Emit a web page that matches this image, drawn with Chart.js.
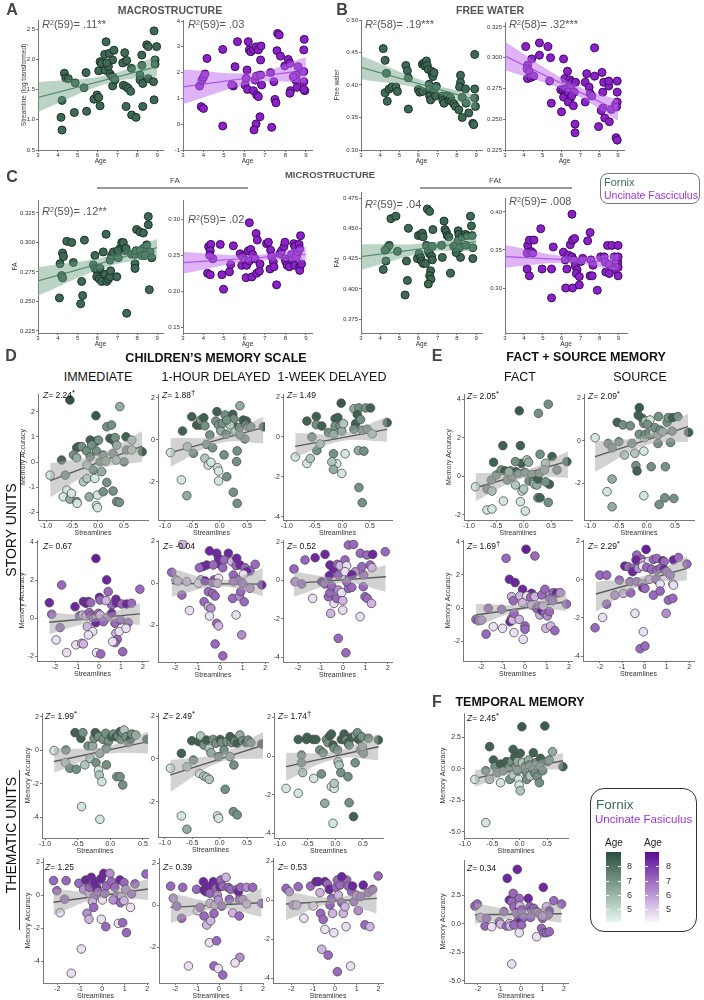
<!DOCTYPE html>
<html><head><meta charset="utf-8">
<script src="https://cdn.jsdelivr.net/npm/chart.js@4.4.1/dist/chart.umd.min.js"></script>
<style>
html,body{margin:0;padding:0;background:#fff;}
#root{position:relative;width:704px;height:1000px;overflow:hidden;font-family:'Liberation Sans',Arial,Helvetica,sans-serif;}
.t{position:absolute;white-space:nowrap;line-height:1;}
.c{transform:translate(-50%,-50%);}
.l{transform:translateY(-50%);}
.r{transform:translate(-50%,-50%) rotate(-90deg);}
sup{font-size:65%;vertical-align:0;position:relative;top:-0.45em;}
</style></head><body><div id="root"></div>
<script>
// ---------------- DATA ----------------
const ageTicks = [3,4,5,6,7,8,9];
const streamTicksA = [-1,-0.5,0,0.5];
const streamTicksB = [-2,-1,0,1,2];

const a1Pts = [[4.33,1.77],[4.4,1.69],[4.53,1.68],[4.21,1.32],[4.16,1.04],[4.21,0.83],[4.88,1.61],[4.83,1.12],[5.32,1.53],[5.42,1.78],[5.45,1.14],[5.82,1.34],[5.97,1.41],[6.06,1.37],[6.13,1.23],[6.43,2.29],[6.13,1.96],[6.19,1.93],[6.06,1.81],[6.38,1.82],[6.55,1.88],[6.63,1.76],[6.71,1.72],[6.8,1.70],[6.76,1.56],[6.76,1.99],[6.36,2.08],[6.6,2.10],[6.83,2.15],[6.46,1.94],[6.88,1.66],[7.37,2.11],[7.39,1.96],[7.27,1.94],[7.47,1.98],[7.3,1.57],[7.44,1.55],[7.55,1.52],[7.67,1.47],[7.44,1.22],[7.72,1.08],[7.94,1.04],[7.71,1.85],[8.23,2.07],[8.14,1.74],[8.14,1.66],[8.28,1.60],[8.28,1.22],[8.48,2.24],[8.56,2.21],[8.56,1.68],[8.82,1.63],[8.9,1.99],[8.9,1.92],[8.98,2.21],[8.85,2.47],[8.85,1.33],[8.24,1.90]];
const a1Line = [[3,1.37],[9,1.88]];
const a1Band = [[3,1.13,1.62],[6.5,1.6,1.74],[9,1.72,2.06]];

const a2Pts = [[3.81,1.48],[3.92,1.71],[4.0,1.82],[4.07,1.95],[4.17,2.55],[3.89,0.68],[4.0,0.61],[4.94,2.90],[4.94,-0.07],[5.46,1.48],[5.54,2.23],[5.66,3.2],[5.38,1.52],[6.19,3.2],[6.24,2.88],[6.31,2.81],[6.44,2.90],[6.57,3.0],[6.68,2.88],[6.81,3.03],[6.08,1.78],[6.03,1.52],[6.15,1.35],[6.13,2.1],[6.52,1.71],[6.6,1.87],[6.79,1.91],[6.44,1.3],[6.6,1.13],[6.68,1.07],[6.79,2.49],[6.76,0.29],[6.57,0.01],[6.47,-0.22],[7.28,2.0],[6.84,1.52],[7.49,0.96],[7.54,0.83],[7.44,1.65],[7.33,-0.12],[7.62,3.52],[7.7,3.46],[7.59,2.85],[7.76,2.64],[7.97,2.26],[8.14,2.51],[8.22,2.36],[8.25,1.3],[8.22,1.2],[8.54,1.91],[8.51,1.71],[8.57,1.43],[8.9,2.04],[8.9,1.65],[8.95,1.3],[8.9,1.35],[8.92,3.29],[8.9,2.88],[8.62,2.23],[8.38,1.84]];
const a2Line = [[3,1.45],[9,2.1]];
const a2Band = [[3,0.78,2.12],[6.5,1.6,2.0],[9,1.62,2.6]];

const b1Pts = [[4.16,0.456],[4.26,0.438],[4.33,0.418],[4.26,0.388],[4.37,0.375],[4.47,0.394],[4.61,0.397],[4.82,0.397],[4.9,0.39],[5.34,0.43],[5.42,0.422],[5.47,0.411],[5.47,0.363],[5.99,0.393],[6.06,0.389],[6.2,0.39],[6.2,0.432],[6.29,0.434],[6.34,0.429],[6.41,0.437],[6.46,0.43],[6.51,0.424],[6.55,0.401],[6.58,0.393],[6.58,0.383],[6.63,0.377],[6.68,0.421],[6.72,0.416],[6.75,0.413],[6.81,0.419],[6.81,0.39],[6.89,0.383],[6.93,0.398],[7.24,0.383],[7.27,0.376],[7.33,0.372],[7.5,0.383],[7.58,0.377],[7.67,0.38],[7.72,0.375],[7.84,0.371],[7.93,0.367],[8.19,0.415],[8.19,0.404],[8.14,0.397],[8.28,0.381],[8.28,0.35],[8.45,0.394],[8.48,0.372],[8.62,0.357],[8.83,0.341],[8.93,0.447],[8.93,0.394],[8.93,0.38],[8.97,0.367],[8.88,0.339],[8.1,0.362]];
const b1Line = [[3,0.427],[9,0.377]];
const b1Band = [[3,0.409,0.445],[6.5,0.392,0.404],[9,0.362,0.385]];

const b2Pts = [[4.1,0.309],[4.42,0.299],[4.2,0.294],[4.17,0.291],[4.29,0.289],[4.2,0.283],[4.38,0.284],[4.53,0.285],[4.83,0.312],[4.83,0.302],[5.28,0.309],[5.42,0.300],[5.37,0.281],[5.46,0.263],[6.0,0.256],[6.11,0.299],[6.11,0.268],[6.18,0.283],[6.32,0.289],[5.96,0.274],[6.09,0.274],[6.21,0.274],[6.36,0.276],[6.45,0.282],[6.54,0.28],[6.5,0.276],[6.36,0.272],[6.45,0.266],[6.36,0.264],[6.63,0.261],[6.68,0.272],[6.54,0.269],[6.75,0.28],[6.72,0.246],[6.72,0.239],[7.26,0.28],[7.34,0.287],[7.47,0.276],[7.52,0.271],[7.61,0.269],[7.76,0.308],[7.26,0.264],[7.76,0.285],[7.97,0.244],[8.15,0.288],[8.24,0.28],[8.19,0.272],[8.19,0.259],[8.11,0.257],[8.3,0.251],[8.51,0.277],[8.54,0.248],[8.65,0.258],[8.87,0.262],[8.96,0.281],[8.96,0.272],[8.96,0.264],[8.92,0.26],[8.9,0.235],[8.96,0.233],[8.51,0.281]];
const b2Line = [[3,0.3014],[9,0.257]];
const b2Band = [[3,0.29,0.313],[6.5,0.2715,0.2795],[9,0.2488,0.2656]];

const c1Pts = [[4.45,0.301],[4.7,0.300],[4.24,0.291],[4.28,0.288],[4.11,0.282],[4.19,0.272],[4.24,0.270],[4.78,0.283],[4.08,0.253],[5.15,0.248],[5.25,0.255],[5.2,0.267],[5.34,0.302],[5.87,0.289],[5.79,0.281],[5.87,0.278],[5.96,0.277],[6.01,0.276],[6.13,0.278],[5.96,0.271],[6.09,0.269],[6.21,0.267],[6.38,0.273],[6.43,0.307],[6.29,0.292],[6.46,0.267],[6.55,0.269],[6.63,0.271],[6.66,0.276],[6.63,0.285],[6.71,0.289],[6.8,0.292],[7.05,0.287],[7.05,0.293],[7.13,0.295],[7.22,0.3],[7.3,0.3],[7.39,0.293],[7.44,0.295],[6.97,0.271],[7.02,0.293],[7.47,0.24],[7.72,0.29],[7.89,0.29],[7.94,0.293],[7.97,0.311],[8.14,0.309],[8.31,0.308],[8.31,0.295],[7.89,0.282],[7.89,0.278],[8.14,0.293],[8.23,0.289],[8.56,0.322],[8.56,0.315],[8.61,0.26],[8.48,0.298],[8.65,0.292],[8.73,0.287],[8.39,0.289]];
const c1Line = [[3,0.2674],[9,0.2956]];
const c1Band = [[3,0.255,0.279],[6.5,0.2795,0.2883],[9,0.287,0.303]];

const c2Pts = [[4.25,0.262],[4.36,0.265],[4.33,0.256],[4.46,0.245],[4.3,0.25],[4.2,0.225],[4.33,0.223],[4.82,0.265],[4.9,0.223],[4.98,0.203],[5.27,0.227],[5.33,0.237],[5.46,0.263],[5.79,0.252],[5.92,0.248],[5.87,0.236],[6.03,0.243],[6.11,0.236],[6.08,0.219],[6.24,0.295],[6.19,0.256],[6.31,0.258],[6.24,0.242],[6.36,0.22],[6.4,0.251],[6.57,0.28],[6.63,0.271],[6.52,0.245],[6.6,0.225],[6.73,0.228],[6.76,0.238],[7.08,0.266],[7.17,0.268],[7.28,0.257],[7.33,0.248],[7.41,0.241],[7.25,0.231],[7.44,0.234],[7.57,0.209],[7.73,0.252],[7.81,0.256],[7.93,0.262],[7.98,0.268],[7.98,0.245],[8.02,0.241],[8.09,0.236],[8.19,0.234],[8.3,0.251],[8.35,0.243],[8.41,0.266],[8.46,0.236],[8.46,0.262],[8.54,0.248],[8.62,0.255],[8.67,0.265],[8.7,0.234],[8.7,0.229],[8.74,0.277],[8.79,0.238],[8.7,0.259]];
const c2Line = [[3,0.2398],[9,0.251]];
const c2Band = [[3,0.2245,0.2546],[6.5,0.2423,0.2503],[9,0.2417,0.2616]];

const c3Pts = [[4.16,0.416],[4.3,0.423],[4.38,0.434],[4.47,0.436],[4.26,0.432],[4.56,0.458],[4.82,0.46],[4.9,0.431],[5.37,0.423],[5.47,0.45],[5.42,0.407],[5.3,0.395],[5.94,0.425],[5.99,0.444],[6.11,0.445],[6.2,0.446],[6.24,0.443],[6.03,0.429],[6.11,0.426],[6.16,0.423],[6.24,0.421],[6.37,0.421],[6.46,0.466],[6.58,0.464],[6.41,0.436],[6.51,0.431],[6.58,0.429],[6.72,0.435],[6.68,0.427],[6.72,0.424],[6.63,0.415],[6.58,0.411],[6.65,0.408],[6.51,0.404],[6.75,0.449],[7.24,0.426],[7.2,0.436],[7.33,0.456],[7.38,0.449],[7.45,0.447],[7.5,0.444],[7.58,0.443],[7.67,0.413],[7.84,0.435],[7.93,0.436],[8.07,0.448],[8.1,0.445],[8.07,0.44],[8.14,0.434],[8.19,0.426],[8.28,0.443],[8.45,0.445],[8.48,0.436],[8.54,0.444],[8.71,0.46],[8.76,0.452],[8.8,0.444],[8.83,0.434],[8.83,0.425],[7.96,0.43]];
const c3Line = [[3,0.4267],[9,0.439]];
const c3Band = [[3,0.4157,0.4368],[6.5,0.43,0.438],[9,0.4313,0.4467]];

const c4Pts = [[4.17,0.346],[4.2,0.356],[4.29,0.363],[4.53,0.363],[4.38,0.348],[4.47,0.346],[4.17,0.325],[4.29,0.316],[4.89,0.378],[4.96,0.325],[5.46,0.325],[5.55,0.354],[5.46,0.287],[6.09,0.347],[6.18,0.337],[6.27,0.325],[6.21,0.3],[6.54,0.397],[6.45,0.357],[6.57,0.363],[6.68,0.365],[6.36,0.343],[6.54,0.341],[6.63,0.337],[6.72,0.329],[6.81,0.324],[6.77,0.319],[6.57,0.3],[6.93,0.315],[6.93,0.304],[7.02,0.335],[7.11,0.339],[7.37,0.362],[7.5,0.373],[7.55,0.337],[7.5,0.316],[7.61,0.316],[7.65,0.33],[7.88,0.297],[8.06,0.341],[8.24,0.341],[8.3,0.334],[8.42,0.356],[8.33,0.321],[8.51,0.331],[8.65,0.356],[8.78,0.341],[8.87,0.329],[8.96,0.334],[8.98,0.356],[8.98,0.341],[8.98,0.327],[8.98,0.316],[8.69,0.324],[8.51,0.319]];
const c4Line = [[3,0.3412],[9,0.3338]];
const c4Band = [[3,0.3268,0.3566],[6.5,0.333,0.341],[9,0.3224,0.3443]];

// D/E/F: [streamlines, memory accuracy, age]
const dImmFx = [[-0.92,-0.52,4.5],[-0.54,2.46,8.8],[-0.7,0.08,8.2],[-0.41,0.57,8.4],[-0.37,0.61,8.4],[-0.31,0.61,7],[-0.47,0.28,7],[-0.41,0.17,6.2],[-0.22,0.44,7],[-0.15,0.87,8.4],[-0.09,0.81,8.4],[-0.03,0.83,8.4],[0.01,0.87,7],[-0.12,0.67,7],[-0.03,0.44,7],[-0.04,1.84,8.6],[-0.15,0.21,7],[-0.21,-0.12,5.4],[-0.09,-0.32,7],[0.07,-0.38,6.2],[0.1,0.28,7],[0.17,1.4,7],[0.26,1.47,7],[0.23,0.94,8.4],[0.29,0.87,8.4],[0.33,0.97,7],[0.36,0.67,6.2],[0.29,0.34,7],[0.42,2.2,6.2],[0.54,1.0,8.4],[0.65,0.87,5.4],[0.55,0.48,7],[0.5,0.01,7],[0.85,0.41,8.4],[-0.63,-0.52,7],[-0.6,-1.11,4.5],[-0.67,-1.38,4.5],[-0.54,-1.47,6.2],[-0.51,-1.24,4.5],[-0.41,-1.57,7],[-0.4,-1.64,4.5],[-0.28,-0.78,5.4],[-0.17,-1.38,6.2],[-0.21,-0.65,5.4],[-0.06,-0.65,4.5],[-0.01,-1.31,4.5],[-0.03,-1.73,4.5],[-0.01,-1.81,4.5],[0.1,-1.18,7],[0.17,-0.81,7],[0.29,-1.15,7],[0.36,-1.57,7],[0.41,-1.6,7],[0.35,0.08,5.4],[0.04,0.01,7],[0.15,0.04,6.2],[0.65,0.48,5.4]];
const dImmFxLine = [[-0.92,-0.74],[0.85,0.63]];
const dImmFxBand = [[-0.92,-1.41,-0.05],[0,-0.3,0.3],[0.85,0.01,1.23]];

const dHrFx = [[-0.9,-0.6,4.5],[-0.7,-1.9,4.5],[-0.6,-2.65,6.2],[-0.68,0.43,8.4],[-0.59,-0.32,5.4],[-0.51,1.11,8.4],[-0.48,-0.63,7],[-0.42,0.71,8.4],[-0.36,0.71,8.4],[-0.35,0.95,7],[-0.29,1.06,8.4],[-0.27,0.68,7],[-0.24,-0.21,7],[-0.18,0.24,7],[-0.13,-0.37,7],[-0.27,-0.87,5.4],[-0.21,-1.19,4.5],[-0.16,-1.06,4.5],[-0.04,-1.32,4.5],[-0.02,-1.48,4.5],[-0.02,-1.95,4.5],[-0.05,1.35,8.4],[-0.07,0.9,7],[-0.02,0.71,7],[0.02,0.43,6.2],[0.05,0.79,7],[0.1,1.19,7],[0.12,0.27,7],[0.08,-0.71,7],[0.13,-1.75,7],[0.24,1.22,8.4],[0.25,0.71,8.4],[0.26,1.0,7],[0.28,0.43,5.4],[0.36,0.59,7],[0.37,1.63,6.2],[0.32,-0.52,7],[0.31,-1.03,7],[0.25,-2.49,7],[0.32,-3.02,7],[0.43,0.95,8.4],[0.49,0.9,8.4],[0.48,0.71,7],[0.52,0.63,7],[0.57,0.63,7],[0.46,0.05,7],[0.8,0.63,8.4],[0.37,0.24,7],[0.19,0.71,5.4],[0.13,0.95,7]];
const dHrFxLine = [[-0.9,-0.6],[0.8,0.59]];
const dHrFxBand = [[-0.9,-1.27,0.08],[0,-0.15,0.2],[0.8,-0.16,1.11]];

const dWkFx = [[-0.85,-1.0,4.5],[-0.64,-1.33,4.5],[-0.58,-1.08,5.4],[-0.46,-0.68,7],[-0.64,0.8,8.4],[-0.47,1.03,8.4],[-0.47,0.62,7],[-0.37,0.55,8.4],[-0.55,0.0,7],[-0.4,-0.35,5.4],[-0.25,0.22,7],[-0.16,0.14,6.2],[-0.13,0.92,8.4],[-0.08,0.98,8.4],[-0.02,1.7,8.6],[-0.13,0.55,7],[-0.04,0.55,7],[-0.01,0.3,6.2],[0.02,0.67,5.4],[-0.16,-0.84,7],[-0.1,-1.34,4.5],[-0.19,-1.25,5.4],[-0.16,-1.63,6.2],[-0.01,-1.83,4.5],[0.05,-0.84,4.5],[0.21,1.42,6.2],[0.3,1.46,7],[0.42,1.46,7],[0.51,1.46,8.4],[0.27,1.13,8.4],[0.24,0.67,8.4],[0.33,0.88,7],[0.21,0.39,7],[0.36,0.34,7],[0.45,0.39,7],[0.54,0.16,5.4],[0.81,0.72,8.4],[0.29,-0.68,6.2],[0.39,-0.71,7],[0.3,-2.54,7],[0.36,-3.3,7]];
const dWkFxLine = [[-0.85,-0.47],[0.81,0.38]];
const dWkFxBand = [[-0.85,-1.0,0.2],[0,-0.2,0.2],[0.81,-0.24,1.02]];

const eFactFx = [[-0.88,-0.54,4.5],[-0.67,-0.66,7],[-0.67,-1.74,4.5],[-0.58,-1.69,4.5],[-0.58,-0.76,5.4],[-0.59,-0.19,7],[-0.5,0.07,7],[-0.55,0.73,8.4],[-0.37,-1.28,4.5],[-0.38,1.59,8.4],[-0.41,0.33,7],[-0.34,0.28,8.4],[-0.3,-0.19,7],[-0.24,0.28,7],[-0.21,-0.02,7],[-0.15,-0.45,5.4],[-0.14,0.24,8.4],[-0.09,0.16,7],[-0.08,3.39,8.6],[-0.06,1.59,8.4],[-0.04,0.67,8.4],[-0.06,-1.31,4.5],[-0.03,-0.76,4.5],[0.0,-0.66,5.4],[0.03,-1.8,4.5],[0.02,0.21,7],[0.06,0.85,5.4],[0.09,0.73,6.2],[0.1,-0.24,7],[0.15,0.1,7],[0.18,-0.28,7],[0.2,-0.41,5.4],[0.24,-0.45,6.2],[0.26,-0.14,8.4],[0.29,0.16,7],[0.26,-1.11,7],[0.3,-1.11,8.4],[0.27,3.26,7],[0.3,1.14,7],[0.4,0.67,5.4],[0.38,0.33,6.2],[0.45,-1.35,7],[0.47,-0.41,8.4],[0.52,1.02,8.4],[0.45,3.73,7],[0.61,0.33,7],[0.79,0.76,8.4],[0.4,-0.28,7],[-0.27,0.24,6.2],[-0.15,0.76,7]];
const eFactFxLine = [[-0.88,-0.59],[0.81,0.79]];
const eFactFxBand = [[-0.88,-1.28,0.16],[0,-0.1,0.3],[0.81,-0.07,1.28]];

const eSrcFx = [[-0.91,0.14,4.5],[-0.7,-2.39,4.5],[-0.61,-1.8,6.2],[-0.61,-3.1,6.2],[-0.68,-0.13,7],[-0.61,-0.33,7],[-0.52,0.86,8.4],[-0.49,-0.05,7],[-0.42,0.74,7],[-0.39,-0.67,5.4],[-0.29,0.7,7],[-0.26,-0.13,7],[-0.21,-0.59,5.4],[-0.19,-1.17,7],[-0.17,-1.42,8.4],[-0.15,1.2,8.4],[-0.13,1.55,8.6],[-0.13,0.3,7],[-0.08,1.05,8.4],[-0.05,0.81,7],[-0.02,0.92,5.4],[-0.04,0.14,5.4],[-0.05,-0.49,4.5],[-0.02,0.3,7],[0.06,0.97,4.5],[0.01,0.77,7],[0.08,-1.22,7],[-0.05,-2.58,4.5],[0.04,0.34,7],[0.12,0.39,5.4],[0.15,0.61,7],[0.21,1.13,7],[0.2,0.27,6.2],[0.2,-0.13,7],[0.24,0.5,7],[0.28,0.42,6.2],[0.33,-1.22,7],[0.36,0.86,7],[0.38,1.08,7],[0.46,1.08,8.4],[0.55,1.13,7],[0.45,0.45,7],[0.42,-0.08,7],[0.32,-2.68,7],[0.22,-2.99,7],[0.74,0.39,8.4],[0.48,-2.71,7]];
const eSrcFxLine = [[-0.91,-0.75],[0.73,0.66]];
const eSrcFxBand = [[-0.91,-1.46,-0.05],[0,-0.2,0.25],[0.73,-0.05,1.28]];

const dImmUf = [[-1.7,1.76,7],[0.35,2.03,8.4],[-0.14,3.16,8.6],[-2.26,0.83,8.4],[-1.09,0.62,8.4],[-0.71,0.89,8.4],[-0.59,0.8,8.4],[-0.48,0.89,8.4],[-0.38,0.83,7],[0.02,1.11,8.4],[0.05,0.97,7],[0.42,1.41,7],[0.58,0.71,7],[0.77,1.01,8.4],[0.8,0.83,8.4],[0.32,0.94,5.4],[1.03,0.76,7],[1.26,0.76,8.4],[1.48,0.8,7],[1.86,1.54,7],[-2.15,0.22,7],[-1.77,-0.48,7],[-1.95,-1.13,4.5],[-1.47,-1.8,4.5],[-1.05,-1.39,4.5],[-0.79,-1.31,5.4],[-0.71,-1.34,5.4],[-0.89,0.13,7],[-0.74,0.18,5.4],[-0.59,0.13,5.4],[-0.44,0.31,7],[-0.38,0.13,7],[-0.26,0.01,7],[-0.53,-0.43,5.4],[-0.29,-0.69,4.5],[-0.48,-0.87,4.5],[-0.11,0.1,5.4],[-0.03,0.27,7],[-0.14,-0.22,8.4],[0.05,0.18,5.4],[-0.11,-1.8,4.5],[0.08,-1.87,7],[0.38,0.06,6.2],[0.58,0.27,8.4],[0.73,-0.25,7],[0.77,-0.78,5.4],[0.83,-1.1,7],[0.73,-1.27,7],[0.92,-0.69,4.5],[0.98,-0.08,7],[1.33,-0.22,7],[1.23,-0.52,4.5],[1.08,-1.75,7],[0.62,-1.22,4.5],[0.2,-0.17,7]];
const dImmUfLine = [[-2.26,-0.2],[1.86,0.24]];
const dImmUfBand = [[-2.26,-0.83,0.31],[0,-0.15,0.2],[1.86,-0.34,0.8]];

const dHrUf = [[-1.66,1.87,5.4],[-0.47,1.55,8.4],[-0.15,1.44,8.4],[0.37,1.44,8.4],[-0.07,1.2,8.4],[0,0.91,8.4],[-0.77,0.8,8.4],[-0.92,0.75,7],[-0.59,0.88,8.4],[-0.3,0.88,7],[0.12,0.75,7],[0.18,1.12,7],[0.52,1.04,5.4],[0.71,0.85,7],[0.89,0.88,8.4],[1.11,0.75,7],[1.33,0.6,7],[1.56,0.91,7],[1.19,0.56,8.4],[0.74,1.2,8.4],[1.04,0.44,4.5],[-2.15,0.53,7],[-1.96,0.17,5.4],[-1.48,0.09,5.4],[-0.86,0.17,5.4],[-0.27,0.17,7],[-0.07,0.25,4.5],[0.59,0.4,7],[0.77,0.17,7],[-1.88,0.12,5.4],[-0.96,0.01,4.5],[-0.67,0.12,8.4],[-0.33,0.04,7],[-0.12,0.01,5.4],[-1.7,-0.55,7],[-1.36,-1.29,4.5],[-0.71,-0.87,7],[-0.52,-1.1,5.4],[-0.41,-1.18,6.2],[-0.47,-1.55,4.5],[-0.52,-0.39,7],[-0.33,-0.47,7],[-0.22,-0.6,7],[-0.15,-1.9,7],[-0.07,-2.02,5.4],[-0.22,-2.88,7],[0.12,-3.45,7],[0.56,-0.71,7],[0.71,-1.5,4.5],[0.86,-0.6,6.2],[0.92,-0.39,7],[1.07,-0.87,7],[0.96,-2.45,6.2],[1.33,-0.23,6.2],[1.85,-0.07,8.4],[1.0,0.01,7],[0.59,0.09,7]];
const dHrUfLine = [[-2.15,0.0],[1.9,-0.03]];
const dHrUfBand = [[-2.15,-0.63,0.72],[0,-0.15,0.15],[1.9,-0.6,0.72]];

const dWkUf = [[-2.18,0.6,7],[-1.69,1.07,7],[-1.24,1.19,8.4],[-0.8,1.36,8.4],[-0.58,0.81,8.4],[-0.43,0.6,8.4],[-0.25,0.84,7],[-0.13,0.77,5.4],[0.09,1.07,7],[0.16,0.77,4.5],[0.24,1.85,7],[0.28,0.29,7],[-0.61,0.25,8.4],[-0.21,0.29,7],[0.09,0.46,4.5],[0.47,1.88,7],[0.77,1.42,7],[1.07,1.33,7],[1.32,1.36,8.4],[1.88,1.5,7],[0.84,0.72,7],[1.21,0.81,7],[0.55,0.46,6.2],[0.4,0.29,8.4],[0.92,0.29,7],[1.29,0.67,5.4],[-2.13,-0.06,6.2],[-1.84,-0.18,7],[-1.35,-0.93,4.5],[-0.95,-0.06,8.4],[-0.8,-0.18,7],[-0.65,-0.84,7],[-0.58,-0.63,7],[-0.5,-0.29,7],[-0.4,-1.19,4.5],[-0.28,-0.93,7],[-0.21,-0.49,6.2],[-0.55,-1.71,5.4],[-0.06,-0.63,4.5],[-0.01,-1.05,5.4],[-0.01,-1.54,4.5],[-0.21,-3.01,7],[0.13,-3.76,7],[0.24,-0.41,7],[0.39,-0.36,7],[0.9,-0.32,7],[0.98,-0.84,7],[1.08,-0.93,7],[1.27,-1.19,5.4],[0.76,-1.88,4.5],[0.16,-0.06,7]];
const dWkUfLine = [[-2.18,-0.15],[1.9,0.2]];
const dWkUfBand = [[-2.18,-0.84,0.46],[0,-0.12,0.18],[1.9,-0.58,0.81]];

const eFactUf = [[0.05,3.56,8.6],[-0.86,3.01,7],[0.45,3.15,7],[-0.71,1.74,8.4],[-0.45,1.54,8.4],[-0.11,1.13,8.4],[0.3,0.89,8.4],[0.2,0.69,7],[-0.61,0.69,5.4],[-0.53,0.44,7],[-0.23,0.73,5.4],[0.08,0.73,4.5],[0.26,0.65,7],[0.45,0.69,5.4],[0.76,0.79,7],[0.91,1.13,7],[1.29,0.93,7],[1.44,0.9,8.4],[1.6,0.93,6.2],[1.11,0.59,7],[1.89,0.24,7],[-1.67,-0.02,7],[-2.23,-0.69,7],[-2.12,-0.77,7],[-1.97,-0.73,6.2],[-1.77,-1.58,7],[-1.44,-1.13,4.5],[-1.06,-0.08,7],[-1.02,-1.23,4.5],[-0.61,-0.63,7],[-0.68,-0.83,8.4],[-0.56,-0.73,5.4],[-0.5,-0.32,7],[-0.5,-1.49,4.5],[-0.26,-0.69,5.4],[-0.11,0.32,5.4],[-0.08,-1.9,4.5],[0,-1.09,7],[0,-1.29,7],[0.3,0.18,5.4],[0.53,-0.02,7],[0.61,0.12,7],[0.68,-0.42,5.4],[0.76,-0.16,8.4],[0.91,-0.32,7],[0.83,0.12,5.4],[1.02,-0.48,6.2],[1.11,-0.22,7],[0.95,-1.23,5.4],[1.17,-1.09,5.4],[1.36,-1.37,7],[1.26,0.44,7]];
const eFactUfLine = [[-2.23,-0.42],[1.89,0.38]];
const eFactUfBand = [[-2.23,-1.09,0.24],[0,-0.1,0.25],[1.89,-0.16,1.09]];

const eSrcUf = [[0.07,1.57,8.6],[-0.35,1.28,7],[-0.13,1.05,7],[-0.38,1.02,8.4],[-0.05,0.88,5.4],[0.17,0.93,4.5],[0.4,1.05,7],[0.55,1.1,7],[0.82,0.98,8.4],[0.88,0.93,7],[1.3,1.02,8.4],[1.52,1.15,7],[1.9,0.81,7],[-0.88,0.7,8.4],[-0.73,0.67,7],[-0.5,0.58,7],[-0.53,0.41,8.4],[-0.28,0.58,6.2],[-0.08,0.7,4.5],[0.1,0.63,7],[0.32,0.53,7],[0.55,0.49,7],[0.7,0.58,7],[0.88,0.53,8.4],[1.0,0.41,7],[1.15,0.23,7],[-2.0,0.23,7],[-1.7,0.23,7],[-1.13,-0.03,7],[-0.65,-0.11,7],[-0.35,-0.11,7],[-0.08,-0.23,5.4],[0.22,0.01,5.4],[0.52,0.01,7],[0.7,-0.23,4.5],[1.27,-0.23,4.5],[-0.08,-0.41,8.4],[0.02,-0.46,7],[-1.33,-0.81,6.2],[-0.95,-0.72,5.4],[-0.62,-0.69,7],[0.4,-0.81,7],[-1.7,-1.28,7],[1.07,-1.07,7],[0.7,-0.6,7],[-2.22,-2.51,7],[-1.88,-1.97,4.5],[-0.43,-1.76,4.5],[-0.05,-2.72,4.5],[-0.2,-3.6,7],[0.02,-3.46,7],[0.97,-1.76,6.2],[1.27,-0.98,7],[1.3,-0.29,4.5]];
const eSrcUfLine = [[-2.18,-0.75],[1.9,0.58]];
const eSrcUfBand = [[-2.18,-1.68,-0.11],[0,-0.25,0.2],[1.9,-0.03,1.22]];

const tImmFx = [[-0.86,-0.02,4.5],[-0.69,-0.73,5.4],[-0.68,0.02,7],[-0.62,-1.07,7],[-0.54,1.05,8.4],[-0.52,-1.13,7],[-0.45,0.71,8.4],[-0.42,1.05,7],[-0.39,-0.87,5.4],[-0.34,0.26,7],[-0.31,-0.48,5.4],[-0.27,0.26,6.2],[-0.25,0.71,7],[-0.23,1.05,8.4],[-0.21,0.97,8.4],[-0.18,0.81,7],[-0.22,-0.73,7],[-0.18,-1.17,4.5],[-0.17,-1.47,5.4],[-0.13,-1.87,4.5],[-0.16,-0.18,6.2],[-0.11,0.65,7],[-0.07,1.01,7],[-0.06,-0.87,7],[-0.03,0.52,7],[0.02,0.81,8.4],[0.05,0.97,7],[0.09,0.81,8.4],[0.12,0.85,7],[0.16,0.65,7],[0.15,1.11,8.4],[0.19,1.05,7],[0.21,1.21,5.4],[0.24,0.81,7],[0.28,0.46,7],[0.31,0.65,8.4],[0.33,0.97,7],[0.1,-1.57,7],[0.15,-1.57,7],[0.19,-2.06,7],[0.39,0.91,6.2],[0.56,0.65,8.4],[-0.44,-3.35,4.5],[-0.16,-4.11,4.5],[-0.06,0.12,7]];
const tImmFxLine = [[-0.86,-0.67],[0.58,0.52]];
const tImmFxBand = [[-0.86,-1.33,0.12],[-0.1,-0.25,0.2],[0.58,-0.18,1.11]];

const tHrFx = [[-0.9,-0.43,4.5],[-0.7,0.26,8.4],[-0.6,-0.36,5.4],[-0.48,-0.05,7],[-0.51,0.85,8.4],[-0.39,0.81,8.4],[-0.37,-0.67,4.5],[-0.29,-0.79,5.4],[-0.24,-0.85,5.4],[-0.19,-0.95,5.4],[-0.35,1.07,5.4],[-0.29,0.65,7],[-0.24,0.88,8.4],[-0.19,0.5,5.4],[-0.16,0.29,6.2],[-0.12,0.91,7],[-0.07,0.73,7],[-0.02,0.11,7],[0.01,0.91,8.4],[0.04,0.76,7],[0.08,0.42,7],[0.13,0.81,7],[0.19,1.04,8.4],[0.22,0.76,7],[0.25,0.91,8.4],[0.28,0.81,7],[0.26,-0.28,7],[0.19,0.11,6.2],[0.1,-1.41,7],[0.32,0.73,8.4],[0.37,1.12,6.2],[0.42,0.85,7],[0.48,0.76,8.4],[0.52,0.88,7],[0.57,0.76,7],[0.77,0.7,8.4],[-0.7,-2.65,4.5],[-0.6,-3.27,6.2],[-0.04,-2.65,4.5],[-0.02,-2.76,4.5],[0.25,-2.45,7],[0.32,-2.6,7]];
const tHrFxLine = [[-0.9,-0.74],[0.8,0.65]];
const tHrFxBand = [[-0.9,-1.52,-0.05],[0,-0.15,0.25],[0.8,0.03,1.27]];

const tWkFx = [[-0.89,-1.68,4.5],[-0.67,-1.93,4.5],[-0.67,0.86,8.4],[-0.61,0.05,7],[-0.61,-0.35,7],[-0.59,-0.86,5.4],[-0.52,0.86,8.4],[-0.51,0.97,8.4],[-0.4,0.86,8.4],[-0.35,0.86,8.4],[-0.39,-1.16,4.5],[-0.25,-0.93,7],[-0.19,-2.45,6.2],[-0.16,0.86,7],[-0.13,0.69,7],[-0.1,1.04,8.4],[-0.07,1.14,8.4],[-0.28,0.31,7],[-0.22,0.17,7],[-0.04,0.57,8.4],[-0.02,0.4,7],[0.04,0.31,7],[0.05,-0.29,5.4],[0.07,-0.47,5.4],[0.1,-0.86,7],[-0.07,-1.59,4.5],[-0.02,-1.68,4.5],[-0.04,-3.49,4.5],[-0.02,-1.42,5.4],[0.11,0.86,8.4],[0.16,1.14,8.4],[0.2,0.83,7],[0.23,0.69,8.4],[0.25,0.57,7],[0.23,-1.07,7],[0.25,-2.42,7],[0.33,-3.14,8.4],[0.3,0.97,8.4],[0.37,1.09,6.2],[0.4,1.21,7],[0.42,0.86,8.4],[0.36,-0.35,7],[0.46,0.31,7],[0.48,1.0,7],[0.51,0.14,7],[0.6,0.92,7],[0.78,0.83,8.4],[0.49,0.48,6.2]];
const tWkFxLine = [[-0.89,-0.55],[0.78,0.48]];
const tWkFxBand = [[-0.89,-1.28,0.17],[0,-0.15,0.25],[0.78,-0.21,1.14]];

const tImmUf = [[-2.17,0.9,7],[-2.02,0.29,7],[-1.88,-1.04,4.5],[-1.68,-0.23,7],[-1.61,0.9,7],[-1.04,0.74,7],[-0.93,-3.24,4.5],[-1.38,-4.71,4.5],[-0.83,0.37,6.2],[-0.74,0.94,8.4],[-0.64,0.9,8.4],[-0.59,0.13,5.4],[-0.56,0.5,7],[-0.68,-1.08,6.2],[-0.59,-1.44,5.4],[-0.49,1.1,8.4],[-0.41,0.74,7],[-0.34,-0.03,7],[-0.44,-0.37,5.4],[-0.38,-0.72,7],[-0.23,0.43,8.4],[-0.19,0.23,7],[-0.11,0.94,7],[-0.04,1.04,8.4],[0.01,-0.27,4.5],[0.07,1.34,8.4],[0.11,0.13,7],[-0.04,-1.44,4.5],[0.16,-1.89,7],[0.19,0.58,7],[0.34,1.34,6.2],[0.41,0.84,7],[0.56,0.5,7],[0.64,-0.03,7],[0.49,-0.27,6.2],[0.79,0.94,8.4],[0.86,-0.07,5.4],[0.82,-0.44,7],[0.97,0.78,7],[1.05,0.37,6.2],[0.97,-0.31,5.4],[0.72,-1.69,4.5],[0.91,-1.65,7],[1.08,-2.25,7],[1.26,-0.72,4.5],[1.46,0.7,7],[1.31,0.09,7],[1.95,1.3,7],[-0.34,0.78,8.4]];
const tImmUfLine = [[-2.17,-0.41],[2.04,0.39]];
const tImmUfBand = [[-2.17,-1.18,0.37],[0,-0.1,0.25],[2.04,-0.27,1.0]];

const tHrUf = [[-2.2,0.9,7],[-2.08,0.32,6.2],[-1.92,-0.05,7],[-1.7,-0.63,7],[-1.65,0.84,7],[-1.39,-2.9,4.5],[-0.98,-0.27,4.5],[-1.02,0.75,7],[-0.71,1.11,8.4],[-0.68,0.71,8.4],[-0.59,0.63,8.4],[-0.48,0.87,8.4],[-0.41,0.56,7],[-0.68,-0.52,7],[-0.56,-0.95,5.4],[-0.38,-0.75,5.4],[-0.44,-1.79,4.5],[-0.11,-1.7,7],[-0.23,-2.9,7],[-0.03,-3.02,4.5],[0.17,-3.33,7],[-0.26,1.11,8.4],[-0.14,0.79,7],[-0.08,0.48,6.2],[0.05,0.87,8.4],[0.08,1.19,7],[0.17,0.9,7],[-0.41,0.08,5.4],[-0.18,0,5.4],[-0.03,0.24,6.2],[0.12,-0.05,7],[-0.23,-0.4,7],[0.32,1.32,5.4],[0.42,0.84,7],[0.47,0.27,7],[0.53,0.75,7],[0.83,0.75,7],[0.88,0.63,8.4],[0.92,0.27,7],[0.98,0.84,7],[0.62,-0.37,5.4],[0.92,-0.52,7],[1.08,0.27,6.2],[1.26,0.05,5.4],[1.26,0.84,6.2],[1.53,0.84,7],[0.95,-2.49,6.2],[0.73,-2.75,4.5],[1.94,0.08,7],[-0.86,-0.11,7]];
const tHrUfLine = [[-2.2,-0.11],[1.94,0.11]];
const tHrUfBand = [[-2.2,-0.87,0.56],[0,-0.18,0.18],[1.94,-0.56,0.79]];

const tWkUf = [[-2.25,0.62,7],[-2.1,0.45,6.2],[-1.92,-0.23,6.2],[-1.76,-0.23,5.4],[-1.69,0.71,7],[-1.43,-0.91,4.5],[-1.12,0.74,7],[-1.0,-0.28,4.5],[-0.87,0.97,8.4],[-0.77,0.97,8.4],[-0.69,0.4,5.4],[-0.66,-0.66,7],[-0.54,-0.97,7],[-0.46,-1.48,4.5],[-0.61,-2.5,5.4],[-0.31,-2.8,7],[-0.46,0.97,8.4],[-0.35,0.85,7],[-0.26,0.57,8.4],[-0.23,-0.23,7],[-0.15,0.11,7],[-0.11,-0.66,5.4],[-0.05,-1.65,4.5],[0.05,0.68,7],[0.11,1.05,7],[0.15,0.28,5.4],[0.23,0.79,7],[0.31,-0.11,7],[0.38,-0.66,5.4],[0.51,-1.34,4.5],[0.54,1.05,7],[0.11,-3.65,7],[0.31,1.22,8.4],[0.61,0.74,7],[0.77,0.45,7],[0.81,0.74,8.4],[0.87,-0.06,7],[0.99,0.28,6.2],[1.07,-0.52,6.2],[1.18,0.2,7],[1.3,0.79,8.4],[1.38,-1.25,7],[1.53,0.4,7],[1.73,0.57,7],[1.99,1.26,7],[1.61,-1.34,5.4],[0.72,-3.36,4.5],[0.46,-0.32,5.4]];
const tWkUfLine = [[-2.25,-0.18],[1.92,0.11]];
const tWkUfBand = [[-2.25,-1.0,0.45],[0,-0.15,0.15],[1.92,-0.66,0.74]];

const fTmpFx = [[-0.82,-0.85,4.5],[-0.62,-0.16,7],[-0.55,1.75,8.4],[-0.55,-0.85,5.4],[-0.48,0.69,8.4],[-0.45,0.16,7],[-0.41,-0.32,7],[-0.35,0.37,8.4],[-0.35,-1.11,4.5],[-0.3,-0.16,7],[-0.24,0.56,8.4],[-0.19,0.16,7],[-0.18,-0.85,7],[-0.12,1.53,8.4],[-0.15,0.56,7],[-0.12,-0.5,5.4],[-0.09,0.95,8.4],[-0.07,0.21,7],[-0.04,0.56,6.2],[-0.04,-0.16,7],[-0.02,-0.85,4.5],[0.01,1.22,8.4],[-0.01,-1.3,4.5],[0.01,-1.75,5.4],[0.04,3.33,8.6],[0.05,0.48,5.4],[0.1,0.16,7],[0.12,-0.32,7],[0.13,-0.85,7],[0.16,0.69,6.2],[0.18,0.29,7],[0.19,-0.58,5.4],[0.24,-0.05,7],[0.25,1.27,8.4],[0.28,-0.37,7],[0.3,0.48,7],[0.32,-0.63,7],[0.36,-1.11,7],[0.37,0.16,7],[0.38,0.82,8.4],[0.42,-0.16,7],[0.46,3.39,8.6],[0.51,0.56,8.4],[0.54,0.69,7],[0.6,1.35,6.2],[0.79,0.16,8.4],[-0.62,-4.28,4.5]];
const fTmpFxLine = [[-0.82,-0.77],[0.79,0.63]];
const fTmpFxBand = [[-0.82,-1.43,-0.1],[0,-0.25,0.25],[0.79,-0.05,1.27]];

const fTmpUf = [[-2.14,1.56,7],[-2.03,1.74,7],[-1.88,0.57,5.4],[-1.67,-0.19,7],[-1.6,0.48,7],[-1.36,-0.25,4.5],[-1.01,0.19,7],[-0.95,-0.02,5.4],[-0.67,-0.19,7],[-0.54,0.04,5.4],[-0.51,-0.19,5.4],[-0.64,3.99,8.4],[-0.79,1.07,7],[-0.54,2.09,8.4],[-0.43,1.94,7],[-0.36,2.67,7],[-0.33,1.5,7],[-0.23,0.98,7],[-0.17,4.78,8.4],[-0.08,2.23,7],[-0.08,0.57,7],[-0.05,1.56,5.4],[0.03,1.21,7],[-0.17,0.19,7],[-0.33,-0.1,7],[-0.02,0.39,8.4],[0.03,-0.1,7],[0.14,0.57,7],[-0.08,-0.78,4.5],[0.34,2.23,8.4],[0.42,1.5,7],[0.5,1.21,7],[0.6,1.36,7],[0.45,0.57,7],[0.7,1.07,7],[0.81,0.98,6.2],[0.73,-1.13,4.5],[0.88,0.86,7],[1.01,0.48,7],[1.04,3.2,8.4],[1.19,1.5,5.4],[1.32,1.15,8.4],[1.27,0.77,7],[0.96,-0.4,7],[1.07,-0.78,7],[1.19,-0.78,7],[1.32,-0.69,7],[1.53,2.03,7],[1.89,1.74,7],[-0.43,-3.52,4.5],[1.01,0.69,6.2]];
const fTmpUfLine = [[-2.14,0.8],[1.89,0.88]];
const fTmpUfBand = [[-2.14,0.0,1.8],[0,0.5,1.2],[1.89,0.1,1.8]];

const legendAgeTicks = [8,7,6,5];

// ---------------- RENDER ----------------
const FONT = "'Liberation Sans', Arial, Helvetica, sans-serif";
const root = document.getElementById('root');
function txt(html, x, y, css, cls){
  const d = document.createElement('div');
  d.className = 't ' + (cls || 'l');
  d.style.cssText = `left:${x}px;top:${y}px;` + (css || '');
  d.innerHTML = html; root.appendChild(d); return d;
}
function rect(x,y,w,h,css){
  const d = document.createElement('div');
  d.style.cssText = `position:absolute;left:${x}px;top:${y}px;width:${w}px;height:${h}px;box-sizing:border-box;` + css;
  root.appendChild(d); return d;
}
function lerp(a,b,t){ return Math.round(a + (b-a)*t); }
const FX_LO=[228,247,238], FX_HI=[42,78,60], UF_LO=[250,246,252], UF_HI=[92,10,150];
function ageCol(fam, age){
  const t = Math.max(0, Math.min(1, (age-4)/5));
  const lo = fam==='fx'?FX_LO:UF_LO, hi = fam==='fx'?FX_HI:UF_HI;
  return `rgb(${lerp(lo[0],hi[0],t)},${lerp(lo[1],hi[1],t)},${lerp(lo[2],hi[2],t)})`;
}
const fmt = (v,d) => d==null ? String(v) : Number(v).toFixed(d);
const PADL=36, PADT=6, PADR=6, PADB=24, XH=22;

function plot(o){
  const {L,T,R,B} = o.box;
  const div = document.createElement('div');
  div.style.cssText = `position:absolute;left:${L-PADL}px;top:${T-PADT}px;width:${R-L+PADL+PADR}px;height:${B-T+PADT+PADB}px;`;
  const cv = document.createElement('canvas'); div.appendChild(cv); root.appendChild(div);
  const sm = !!o.small;
  const tf = sm ? 6 : 7, ttf = sm ? 6.5 : 7;
  let ptBg, ptBd, bandCol, lineCol, lineW;
  if (o.fam==='G'){ ptBg='#3e6a55'; ptBd='#1c3127'; bandCol='rgba(105,160,128,0.45)'; lineCol='#4f8068'; lineW=1.2; }
  else if (o.fam==='P'){ ptBg='#8a22c8'; ptBd='#3d0a5e'; bandCol='rgba(190,105,240,0.5)'; lineCol='#a640e6'; lineW=1.2; }
  else { ptBg=o.pts.map(p=>ageCol(o.fam,p[2])); ptBd='#4d4d4d'; bandCol='rgba(165,165,165,0.5)'; lineCol='#111'; lineW=1.4; }
  const clear='rgba(0,0,0,0)';
  const ds = [
    {type:'line', data:o.band.map(b=>({x:b[0],y:b[1]})), borderColor:clear, borderWidth:0, pointRadius:0, tension:0.4, fill:false, clip:0},
    {type:'line', data:o.band.map(b=>({x:b[0],y:b[2]})), borderColor:clear, borderWidth:0, pointRadius:0, tension:0.4, fill:'-1', backgroundColor:bandCol, clip:0},
    {type:'scatter', data:o.pts.map(p=>({x:p[0],y:p[1]})), backgroundColor:ptBg, borderColor:ptBd, borderWidth: sm?1:0.8, pointRadius: sm?4:4.3, clip:0},
    {type:'line', data:o.line.map(p=>({x:p[0],y:p[1]})), borderColor:lineCol, borderWidth:lineW, pointRadius:0, fill:false, clip:0}
  ];
  const grid = {display:true, drawOnChartArea:false, drawTicks:true, tickLength:2, color:'#777', lineWidth:1};
  new Chart(cv, {
    type:'scatter',
    data:{datasets:ds},
    options:{
      responsive:true, maintainAspectRatio:false, animation:false, events:[],
      layout:{padding:{left:0, top:PADT, right:PADR, bottom:PADB-XH}},
      plugins:{legend:{display:false}, tooltip:{enabled:false}},
      scales:{
        x:{type:'linear', min:o.xr[0], max:o.xr[1],
          afterBuildTicks: s => { s.ticks = o.xt.map(v=>({value:v})); },
          afterFit: s => { s.height = XH; s.paddingLeft = 0; s.paddingRight = 0; },
          ticks:{font:{size:tf, family:FONT}, color:'#333', padding:0, maxRotation:0, minRotation:0, autoSkip:false, callback:v=>fmt(v,o.xd)},
          grid:grid, border:{display:true, color:'#777', width:1},
          title:{display:!!o.xtitle, text:o.xtitle||'', font:{size:ttf, family:FONT}, color:'#333', padding:{top:0, bottom: XH - (o.xty||13.5) - ttf*0.6}}
        },
        y:{type:'linear', min:o.yr[0], max:o.yr[1],
          afterBuildTicks: s => { s.ticks = o.yt.map(v=>({value:v})); },
          afterFit: s => { s.width = PADL; s.paddingTop = 0; s.paddingBottom = 0; },
          ticks:{font:{size:tf, family:FONT}, color:'#333', padding:1, autoSkip:false, callback:v=>fmt(v,o.yd)},
          grid:grid, border:{display:true, color:'#777', width:1},
          title:{display:!!o.ytitle, text:o.ytitle||'', font:{size:ttf, family:FONT}, color:'#333', padding:{top: PADL - (o.ytdx||15) - ttf*0.6, bottom:0}}
        }
      }
    }
  });
}

// ---- A / B / C ----
const S = {small:true, xt:ageTicks, xd:0, xtitle:'Age', xty:11.5};
plot({...S, box:{L:38,T:20,R:163,B:150}, xr:[3,9.3], yr:[0.5,2.65], yt:[0.5,1,1.5,2,2.5], yd:1, ytitle:'Streamline (log transformed)', ytdx:14, fam:'G', pts:a1Pts, line:a1Line, band:a1Band});
plot({...S, box:{L:183,T:20,R:312,B:150}, xr:[3,9.3], yr:[-1,4.04], yt:[-1,0,1,2,3,4], yd:0, fam:'P', pts:a2Pts, line:a2Line, band:a2Band});
plot({...S, box:{L:361,T:20,R:482,B:150}, xr:[3,9.31], yr:[0.3,0.5], yt:[0.3,0.35,0.4,0.45,0.5], yd:2, ytitle:'Free water', ytdx:24, fam:'G', pts:b1Pts, line:b1Line, band:b1Band});
plot({...S, box:{L:505,T:22,R:624,B:150}, xr:[3,9.32], yr:[0.225,0.329], yt:[0.225,0.25,0.275,0.3,0.325], yd:3, fam:'P', pts:b2Pts, line:b2Line, band:b2Band});
plot({...S, box:{L:38,T:200,R:163,B:333}, xr:[3,9.3], yr:[0.2233,0.336], yt:[0.225,0.25,0.275,0.3,0.325], yd:3, ytitle:'FA', ytdx:23, fam:'G', pts:c1Pts, line:c1Line, band:c1Band});
plot({...S, box:{L:183,T:200,R:312,B:333}, xr:[3,9.3], yr:[0.1424,0.3264], yt:[0.15,0.2,0.25,0.3], yd:2, fam:'P', pts:c2Pts, line:c2Line, band:c2Band});
plot({...S, box:{L:361,T:192,R:482,B:333}, xr:[3,9.31], yr:[0.3636,0.48], yt:[0.375,0.4,0.425,0.45,0.475], yd:3, ytitle:'FAt', ytdx:24, fam:'G', pts:c3Pts, line:c3Line, band:c3Band});
plot({...S, box:{L:505,T:198,R:627,B:333}, xr:[3,9.45], yr:[0.2408,0.4184], yt:[0.3,0.35,0.4], yd:2, fam:'P', pts:c4Pts, line:c4Line, band:c4Band});

// ---- D / E / F ----
const M = {xtitle:'Streamlines', xty:13.5};
const MA = 'Memory Accuracy';
plot({...M, box:{L:38,T:394,R:148,B:520}, xr:[-1.154,0.962], xt:streamTicksA, xd:1, yr:[-2.3,2.7], yt:[-2,-1,0,1,2], yd:0, ytitle:MA, ytdx:15, fam:'fx', pts:dImmFx, line:dImmFxLine, band:dImmFxBand});
plot({...M, box:{L:158,T:394,R:265,B:520}, xr:[-1.128,0.829], xt:streamTicksA, xd:1, yr:[-3.81,2.19], yt:[-2,0,2], yd:0, fam:'fx', pts:dHrFx, line:dHrFxLine, band:dHrFxBand});
plot({...M, box:{L:283,T:394,R:392,B:520}, xr:[-1.072,0.898], xt:streamTicksA, xd:1, yr:[-4.17,2.16], yt:[-4,-2,0,2], yd:0, fam:'fx', pts:dWkFx, line:dWkFxLine, band:dWkFxBand});
plot({...M, box:{L:464,T:394,R:572,B:520}, xr:[-1.091,0.884], xt:streamTicksA, xd:1, yr:[-2.26,4.26], yt:[-2,0,2,4], yd:0, ytitle:MA, ytdx:15, fam:'fx', pts:eFactFx, line:eFactFxLine, band:eFactFxBand});
plot({...M, box:{L:584,T:394,R:694,B:520}, xr:[-1.106,0.835], xt:streamTicksA, xd:1, yr:[-3.72,2.19], yt:[-2,0,2], yd:0, fam:'fx', pts:eSrcFx, line:eSrcFxLine, band:eSrcFxBand});

plot({...M, box:{L:37,T:540,R:148,B:661}, xr:[-2.82,2.23], xt:streamTicksB, xd:0, yr:[-2.24,4.13], yt:[-2,0,2,4], yd:0, ytitle:MA, ytdx:15, fam:'uf', pts:dImmUf, line:dImmUfLine, band:dImmUfBand});
plot({...M, box:{L:158,T:540,R:268,B:662}, xr:[-2.76,2.13], xt:streamTicksB, xd:0, yr:[-3.74,2.07], yt:[-2,0,2], yd:0, fam:'uf', pts:dHrUf, line:dHrUfLine, band:dHrUfBand});
plot({...M, box:{L:283,T:540,R:392,B:662}, xr:[-2.67,2.18], xt:streamTicksB, xd:0, yr:[-4.24,2.11], yt:[-4,-2,0,2], yd:0, fam:'uf', pts:dWkUf, line:dWkUfLine, band:dWkUfBand});
plot({...M, box:{L:463,T:540,R:572,B:661}, xr:[-2.82,2.14], xt:streamTicksB, xd:0, yr:[-3.21,4.12], yt:[-2,0,2,4], yd:0, ytitle:MA, ytdx:15, fam:'uf', pts:eFactUf, line:eFactUfLine, band:eFactUfBand});
plot({...M, box:{L:583,T:540,R:694,B:661}, xr:[-2.76,2.22], xt:streamTicksB, xd:0, yr:[-4.24,2.06], yt:[-4,-2,0,2], yd:0, fam:'uf', pts:eSrcUf, line:eSrcUfLine, band:eSrcUfBand});

plot({...M, box:{L:42,T:713,R:148,B:838}, xr:[-1.046,0.577], xt:streamTicksA, xd:1, yr:[-5.22,2.22], yt:[-4,-2,0,2], yd:0, ytitle:MA, ytdx:14, fam:'fx', pts:tImmFx, line:tImmFxLine, band:tImmFxBand});
plot({...M, box:{L:158,T:713,R:263,B:837}, xr:[-1.128,0.792], xt:streamTicksA, xd:1, yr:[-3.63,2.14], yt:[-2,0,2], yd:0, fam:'fx', pts:tHrFx, line:tHrFxLine, band:tHrFxBand});
plot({...M, box:{L:274,T:713,R:383,B:838}, xr:[-1.108,0.863], xt:streamTicksA, xd:1, yr:[-4.25,2.23], yt:[-4,-2,0,2], yd:0, fam:'fx', pts:tWkFx, line:tWkFxLine, band:tWkFxBand});

plot({...M, box:{L:43,T:858,R:148,B:983}, xr:[-2.64,2.04], xt:streamTicksB, xd:0, yr:[-5.3,2.27], yt:[-4,-2,0,2], yd:0, ytitle:MA, ytdx:15, fam:'uf', pts:tImmUf, line:tImmUfLine, band:tImmUfBand});
plot({...M, box:{L:159,T:858,R:263,B:983}, xr:[-2.73,2.0], xt:streamTicksB, xd:0, yr:[-3.71,2.24], yt:[-2,0,2], yd:0, fam:'uf', pts:tHrUf, line:tHrUfLine, band:tHrUfBand});
plot({...M, box:{L:273,T:858,R:383,B:983}, xr:[-2.85,2.21], xt:streamTicksB, xd:0, yr:[-4.23,2.18], yt:[-4,-2,0,2], yd:0, fam:'uf', pts:tWkUf, line:tWkUfLine, band:tWkUfBand});

plot({...M, box:{L:464,T:713,R:568,B:838}, xr:[-1.018,0.883], xt:streamTicksA, xd:1, yr:[-5.5,4.42], yt:[-5,-2.5,0,2.5], yd:1, ytitle:MA, ytdx:21, fam:'fx', pts:fTmpFx, line:fTmpFxLine, band:fTmpFxBand});
plot({...M, box:{L:464,T:860,R:568,B:983}, xr:[-2.65,2.19], xt:streamTicksB, xd:0, yr:[-5.19,5.6], yt:[-5,-2.5,0,2.5], yd:1, ytitle:MA, ytdx:21, fam:'uf', pts:fTmpUf, line:fTmpUfLine, band:fTmpUfBand});

// ---------------- TEXT / ANNOTATIONS ----------------
const LET = 'font-size:16px;font-weight:bold;color:#444;';
txt('A',12,10,LET,'c'); txt('B',342,10,LET,'c'); txt('C',12,177,LET,'c');
txt('D',11,356,LET,'c'); txt('E',437,356,LET,'c'); txt('F',437,702,LET,'c');
const SEC = 'font-size:10.5px;font-weight:bold;color:#555;';
txt('MACROSTRUCTURE',170,10,SEC,'c'); txt('FREE WATER',490,10,SEC,'c'); txt('MICROSTRUCTURE',330,175,'font-size:9.5px;font-weight:bold;color:#555;','c');
txt('FA',175,181,'font-size:8px;color:#444;','c'); rect(97,187,151,1.5,'background:#999;');
txt('FAt',495,181,'font-size:8px;color:#444;','c'); rect(420,187,152,1.5,'background:#999;');

const R2 = 'font-size:11px;color:#555;';
txt('<i>R</i><sup>2</sup>(59)= .11**',42,25,R2); txt('<i>R</i><sup>2</sup>(59)= .03',188,25,R2);
txt('<i>R</i><sup>2</sup>(58)= .19***',365,25,R2); txt('<i>R</i><sup>2</sup>(58)= .32***',509,25,R2);
txt('<i>R</i><sup>2</sup>(59)= .12**',42,212,R2); txt('<i>R</i><sup>2</sup>(59)= .02',188,220,R2);
txt('<i>R</i><sup>2</sup>(59)= .04',365,205,R2); txt('<i>R</i><sup>2</sup>(59)= .008',509,202,R2);

// legend 1
rect(600,173,100,31,'border:1px solid #777;border-radius:8px;background:#fff;');
txt('Fornix',604,182,'font-size:11px;color:#3d6b55;'); txt('Uncinate Fasciculus',604,195,'font-size:10.5px;color:#9a35cf;');

const H1 = 'font-size:12.5px;font-weight:bold;color:#111;';
txt('CHILDREN’S MEMORY SCALE',216,358,H1,'c'); txt('FACT + SOURCE MEMORY',586,357,H1,'c'); txt('TEMPORAL MEMORY',520,702,H1,'c');
const H2 = 'font-size:12.5px;color:#111;';
txt('IMMEDIATE',98,377,H2,'c'); txt('1-HOUR DELAYED',216,377,H2,'c'); txt('1-WEEK DELAYED',332,377,H2,'c');
txt('FACT',520,377,H2,'c'); txt('SOURCE',640,377,H2,'c');
txt('STORY UNITS',11,530,'font-size:14px;color:#111;','r'); rect(20,452,1,160,'background:#333;');
txt('THEMATIC UNITS',11,835,'font-size:14px;color:#111;','r'); rect(19,770,1,160,'background:#333;');

const ZS = 'font-size:8.5px;color:#111;';
const Z = [['2.24*',43,395],['1.88†',162,395],['1.49',287,395],['2.05*',467,396],['2.09*',588,396],
  ['0.67',43,546],['-0.04',163,546],['0.52',287,546],['1.69†',467,546],['2.29*',588,546],
  ['1.99*',45,716],['2.49*',163,716],['1.74†',278,716],['1.25',45,867],['0.39',163,867],['0.53',278,867],
  ['2.45*',467,718],['0.34',467,868]];
Z.forEach(z => {
  const m = z[0].match(/^(-?[\d.]+)([*†]?)$/);
  txt(`<i>Z</i>= ${m[1]}${m[2]?'<sup style="font-size:90%">'+m[2]+'</sup>':''}`, z[1], z[2], ZS);
});

// legend 2
rect(590,788,107,144,'border:1px solid #333;border-radius:14px;background:#fff;');
txt('Fornix',596,805,'font-size:13.5px;color:#3d6b55;'); txt('Uncinate Fasiculus',595,820,'font-size:11.5px;color:#9a35cf;');
txt('Age',614,843,'font-size:10px;color:#222;','c'); txt('Age',653,843,'font-size:10px;color:#222;','c');
rect(606,852,15,70,`background:linear-gradient(to bottom, ${ageCol('fx',9)}, ${ageCol('fx',4)});`);
rect(645,852,14,70,`background:linear-gradient(to bottom, ${ageCol('uf',9)}, ${ageCol('uf',4)});`);
legendAgeTicks.forEach(a => {
  const y = 852 + (9-a)*14.3;
  txt(String(a),627,y,'font-size:9px;color:#333;');
  txt(String(a),666,y,'font-size:9px;color:#333;');
  rect(606,y,3,1,'background:#fff;'); rect(618,y,3,1,'background:#fff;');
  rect(645,y,3,1,'background:#fff;'); rect(656,y,3,1,'background:#fff;');
});
</script></body></html>
